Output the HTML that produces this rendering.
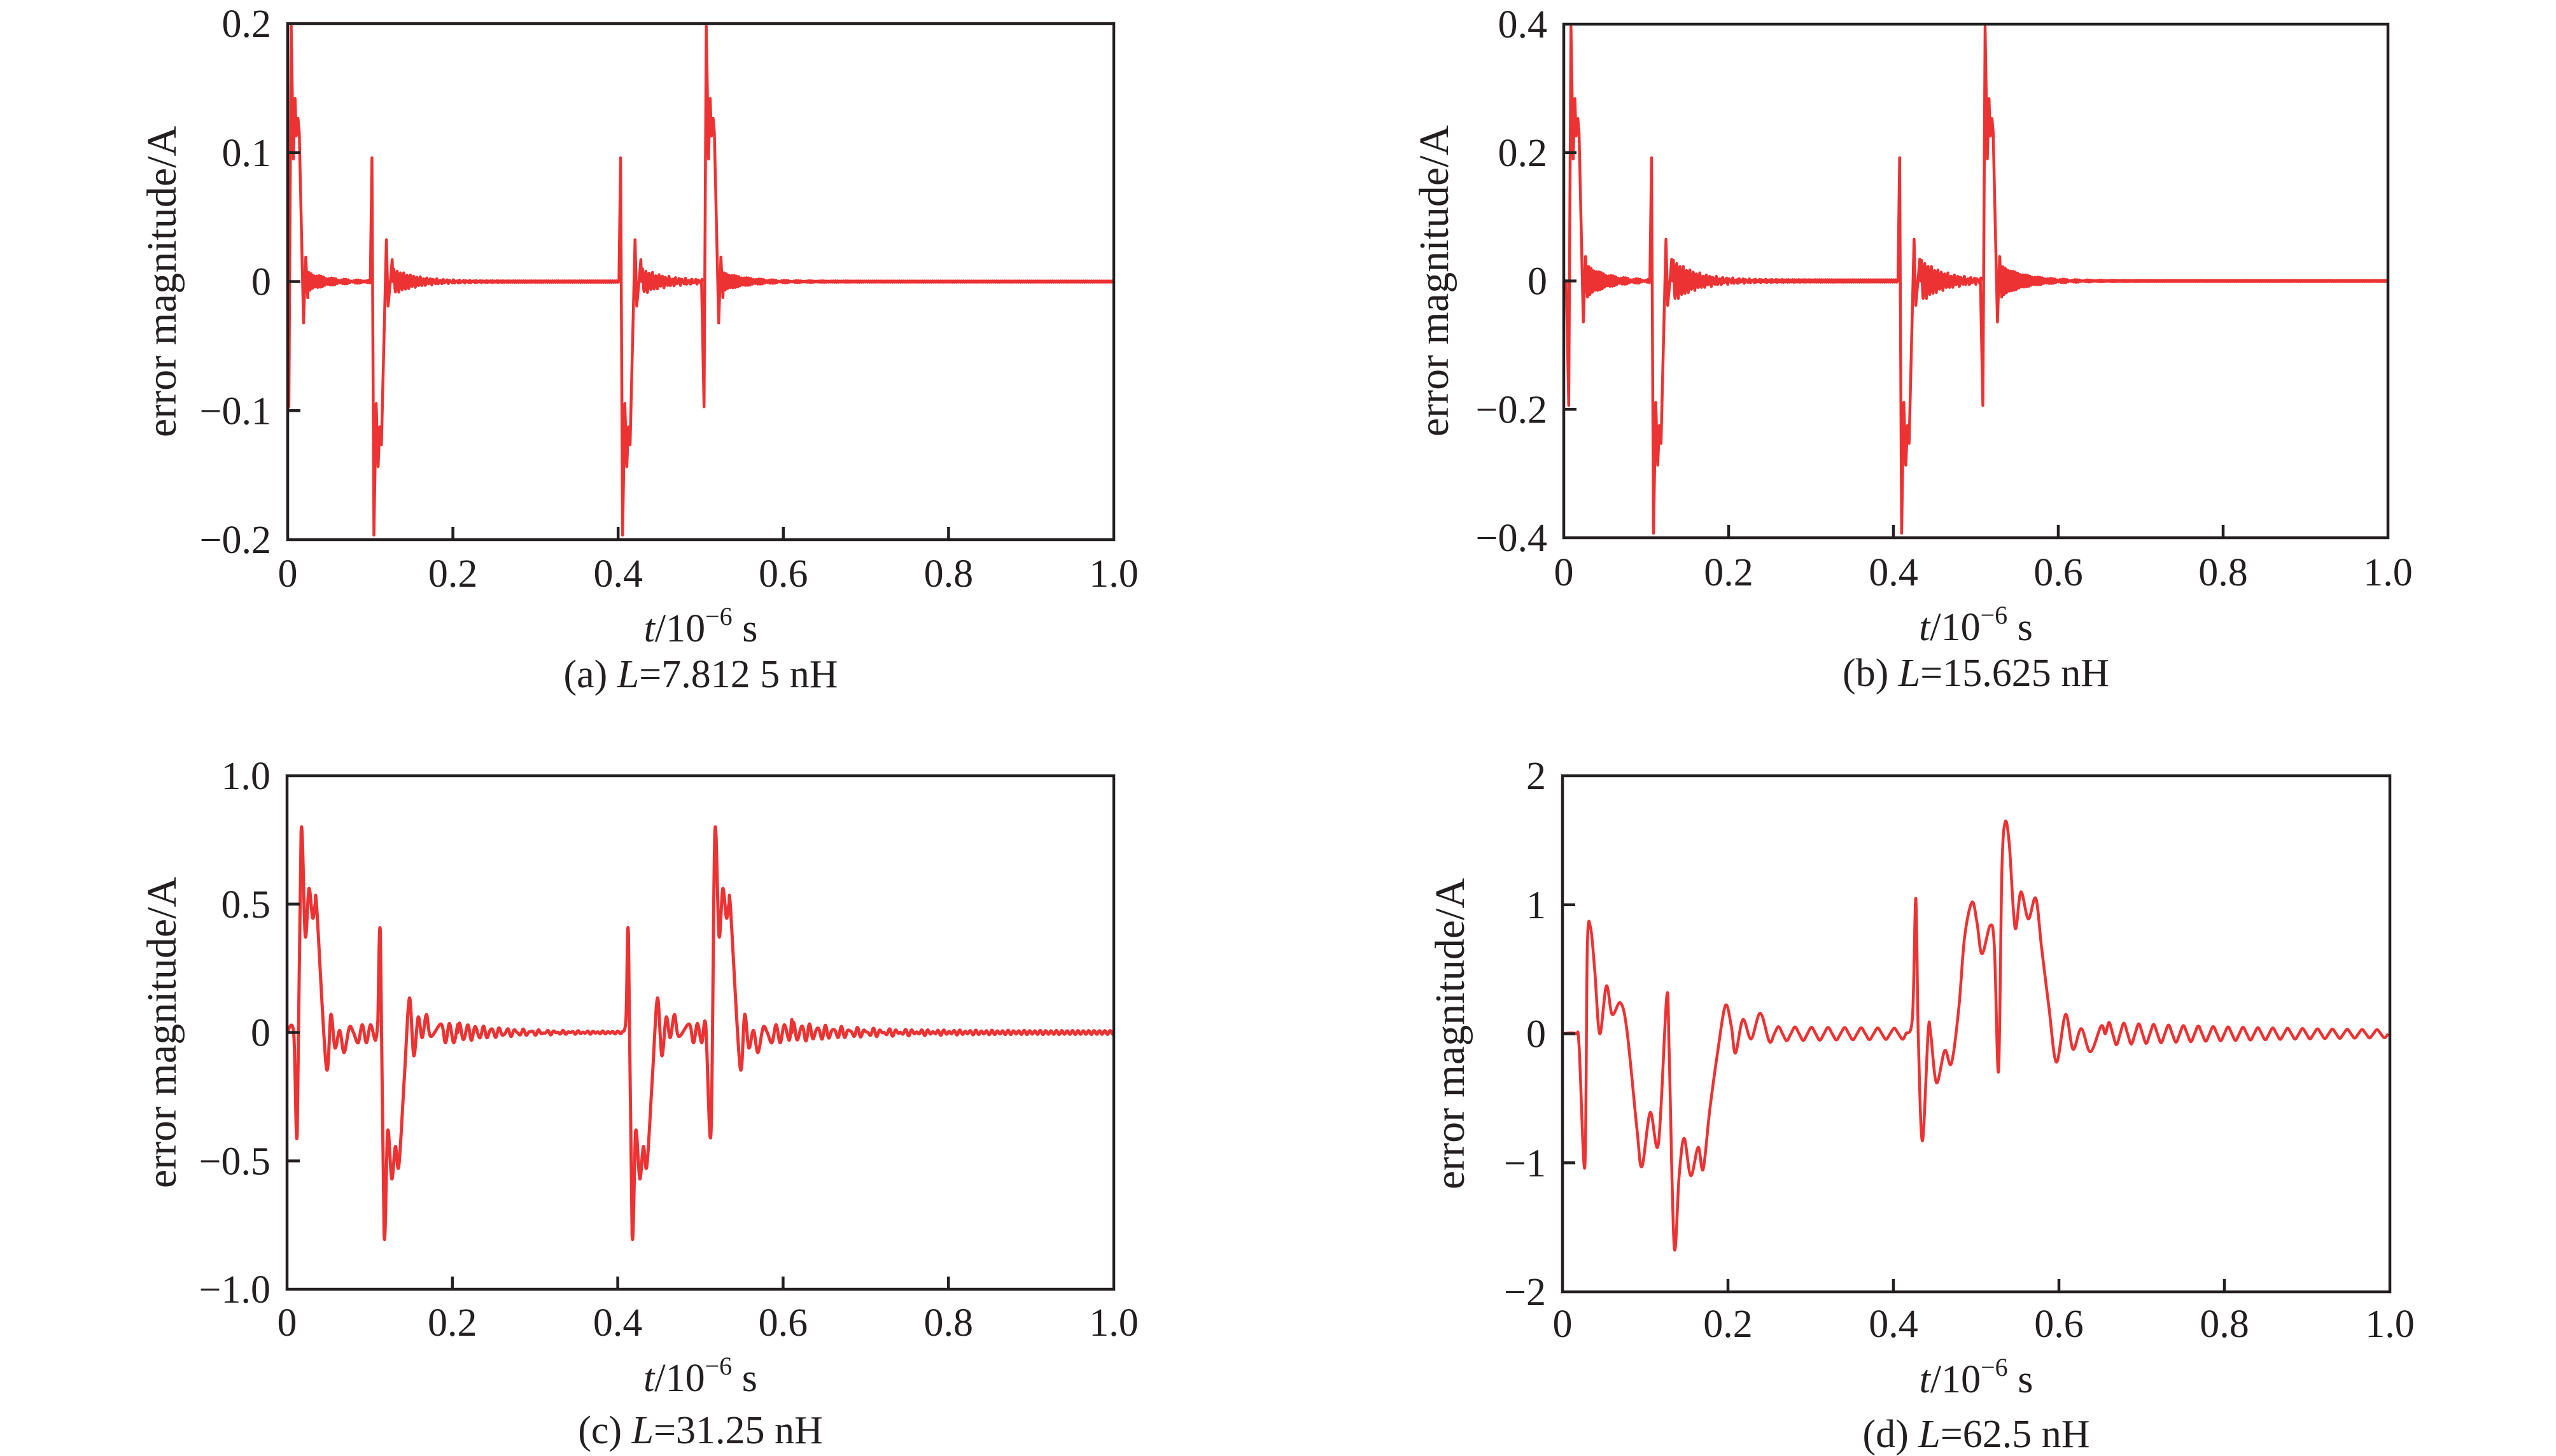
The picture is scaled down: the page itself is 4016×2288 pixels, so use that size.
<!DOCTYPE html>
<html><head><meta charset="utf-8"><style>
html,body{margin:0;padding:0;background:#fff}
svg{display:block}
text{font-family:"Liberation Serif",serif;fill:#231f20}
</style></head><body>
<svg id="s" width="4016" height="2288" viewBox="0 0 4016 2288" xmlns="http://www.w3.org/2000/svg">
<rect width="4016" height="2288" fill="#fff"/>
<g id="g"></g>
</svg>
<script>
var NS="http://www.w3.org/2000/svg",G=document.getElementById('g');
function el(n,a,t){var e=document.createElementNS(NS,n);for(var k in a)e.setAttribute(k,a[k]);if(t!==undefined)e.textContent=t;G.appendChild(e);return e;}
function ring(pts,ts,te,amp,tau,P,floor,fP,step){step=step||0.0005;for(var t=ts;t<te;t+=step){var d=t-ts;var v=amp*Math.exp(-d/tau)*Math.sin(2*Math.PI*d/P)+(floor?floor*Math.sin(2*Math.PI*d/fP):0);pts.push([t,v]);}}
function addT(pts,t0,tpl,sc){sc=sc||1;tpl.forEach(function(p){pts.push([t0+p[0],p[1]*sc]);});}
var A=[[-0.003,0],[0,-0.194],[0.0027,0.396],[0.0054,0.19],[0.0074,0.284],[0.009,0.226],[0.011,0.253],[0.0125,0.231],[0.0177,-0.064],[0.0204,0.038],[0.0228,-0.025]];
var B=[[-0.002,0],[0,0.192],[0.0024,-0.393],[0.0051,-0.189],[0.0075,-0.287],[0.0095,-0.225],[0.0115,-0.253],[0.0175,0.065],[0.0195,-0.038],[0.0225,0.003],[0.0245,0.034]];
function ab(sc,sh,ra){var p=[[0,0]];
 addT(p,0.006+sh,A,sc);ring(p,0.0295+sh,0.1045+sh,0.025*sc*ra,0.025,0.003,0.0015*sc,0.0025);
 addT(p,0.1065+sh,B,sc);ring(p,0.132+sh,0.405+sh,0.032*sc*ra,0.03,0.004,0.002*sc*ra,0.0025);
 addT(p,0.4075+sh,B,sc);ring(p,0.433+sh,0.5065+sh,0.032*sc*ra,0.03,0.004,0.002*sc,0.0025);
 addT(p,0.5085+sh,A,sc);ring(p,0.5320+sh,1.0,0.025*sc*ra,0.03,0.003,0.001*sc,0.0025);
 return p;}
var E1=[[-0.004,0],[0,-0.39],[0.0047,0.78],[0.0097,0.376],[0.0142,0.56],[0.0187,0.446],[0.0217,0.50],[0.0237,0.48],[0.0352,-0.135],[0.0407,0.07],[0.0457,-0.06],[0.0514,0.008],[0.0567,-0.078],[0.0631,0.02],[0.068,0],[0.0737,-0.04],[0.0787,0.03],[0.0837,-0.04],[0.0887,0.03],[0.0947,-0.03],[0.0977,0.05]];
var E2=[[-0.003,0.05],[0,0.38],[0.0045,-0.785],[0.0088,-0.384],[0.0137,-0.57],[0.0181,-0.444],[0.0223,-0.52],[0.0289,-0.18],[0.0351,0.134],[0.0404,-0.09],[0.0457,0.06],[0.0505,-0.02],[0.0557,0.07],[0.0608,-0.015],[0.0735,0.033],[0.0787,-0.04],[0.0835,0.035],[0.0887,-0.04],[0.0935,0.03]];
function cdata(){var p=[[0,0],[0.008,0]];
 addT(p,0.0123,E1.slice(1));
 addT(p,0.1129,E2);ring(p,0.2064,0.405,0.035,0.06,0.0096,0.004,0.006);
 addT(p,0.4129,E2);
 addT(p,0.5128,E1.slice(1));ring(p,0.6105,1.0,0.035,0.08,0.0096,0.007,0.0065);
 return p;}
function ddata(){var raw=[[0,0],[0.016,0],[0.02,-0.09],[0.027,-1.03],[0.03,0.67],[0.034,0.82],[0.039,0.49],[0.045,0],[0.053,0.37],[0.06,0.15],[0.07,0.24],[0.078,0.02],[0.09,-0.74],[0.096,-1.03],[0.106,-0.61],[0.116,-0.85],[0.126,0.29],[0.129,-0.16],[0.135,-1.65],[0.141,-1.1],[0.147,-0.81],[0.155,-1.1],[0.164,-0.88],[0.17,-1.05],[0.178,-0.59],[0.188,-0.12],[0.197,0.22],[0.204,0.06],[0.209,-0.15],[0.218,0.11],[0.228,-0.04],[0.239,0.16],[0.25,-0.06]];
 var p=raw.slice();ring(p,0.256,0.413,0.055,0.6,0.02,0,1,0.005);
 [[0.415,0],[0.423,0.13],[0.427,1.05],[0.43,-0.01],[0.435,-0.83],[0.442,0.02],[0.445,0],[0.452,-0.38],[0.462,-0.13],[0.47,-0.23],[0.479,0.2],[0.486,0.75],[0.495,1.02],[0.501,0.86],[0.507,0.62],[0.517,0.84],[0.522,0.67],[0.527,-0.29],[0.531,1.25],[0.535,1.64],[0.54,1.47],[0.547,0.82],[0.554,1.1],[0.563,0.89],[0.572,1.05],[0.579,0.67],[0.588,0.2],[0.597,-0.22],[0.608,0.15],[0.617,-0.12],[0.627,0.04],[0.638,-0.14],[0.651,0.06]].forEach(function(q){p.push(q);});
 ring(p,0.656,1.0,0.075,0.22,0.018,0.015,0.018,0.0045);return p;}
function panel(o){
 var x0=o.x0,x1=o.x1,y0=o.y0,y1=o.y1,R=o.R;
 function X(t){return x0+(x1-x0)*t;}function Y(v){return (y0+y1)/2-(v/R)*(y1-y0)/2;}
 var P=o.data.map(function(p){return [X(Math.min(1,Math.max(0,p[0]))),Y(Math.max(-R,Math.min(R,p[1])))];});
 var d;
 if(o.smooth){d='M'+P[0][0].toFixed(1)+' '+P[0][1].toFixed(1);
  for(var i=0;i<P.length-1;i++){var p0=P[Math.max(0,i-1)],p1=P[i],p2=P[i+1],p3=P[Math.min(P.length-1,i+2)];
   var c1=[p1[0]+(p2[0]-p0[0])/6,p1[1]+(p2[1]-p0[1])/6],c2=[p2[0]-(p3[0]-p1[0])/6,p2[1]-(p3[1]-p1[1])/6];
   d+='C'+c1[0].toFixed(1)+' '+c1[1].toFixed(1)+' '+c2[0].toFixed(1)+' '+c2[1].toFixed(1)+' '+p2[0].toFixed(1)+' '+p2[1].toFixed(1);}
 } else d=P.map(function(p,i){return (i?'L':'M')+p[0].toFixed(1)+' '+p[1].toFixed(1);}).join('');
 el('path',{d:d,fill:'none',stroke:'#ec3232','stroke-width':o.sw,'stroke-linejoin':'round'});
 el('rect',{x:x0,y:y0,width:x1-x0,height:y1-y0,fill:'none',stroke:'#231f20','stroke-width':4.5});
 for(var i=1;i<5;i++){var xx=X(i/5);el('line',{x1:xx,y1:y1,x2:xx,y2:y1-20,stroke:'#231f20','stroke-width':4.5});}
 for(var j=1;j<4;j++){var yy=y0+(y1-y0)*j/4;el('line',{x1:x0,y1:yy,x2:x0+20,y2:yy,stroke:'#231f20','stroke-width':4.5});}
 ['0','0.2','0.4','0.6','0.8','1.0'].forEach(function(s,i){el('text',{x:X(i/5),y:o.xb,'font-size':62,'text-anchor':'middle'},s);});
 o.yl.forEach(function(s,i){el('text',{x:x0-26,y:y0+(y1-y0)*i/4+21,'font-size':62,'text-anchor':'end'},s);});
 var yc=(y0+y1)/2;
 el('text',{x:o.ylx,y:yc,'font-size':66,'text-anchor':'middle',transform:'rotate(-90 '+o.ylx+' '+yc+')'},'error magnitude/A');
 var cx=(x0+x1)/2;
 var t=el('text',{x:cx,y:o.xlb,'font-size':62,'text-anchor':'middle'});
 t.innerHTML='<tspan font-style="italic">t</tspan>/10<tspan font-size="40" dy="-26">−6</tspan><tspan dy="26"> s</tspan>';
 var c=el('text',{x:cx,y:o.cb,'font-size':62,'text-anchor':'middle'});
 c.innerHTML='('+o.lab+') <tspan font-style="italic">L</tspan>='+o.L+' nH';
}
panel({x0:452,x1:1750,y0:37,y1:848,R:0.2,data:ab(0.5,-0.0045,0.6),sw:4.5,xb:922,xlb:1008,cb:1080,ylx:276,yl:['0.2','0.1','0','−0.1','−0.2'],lab:'a',L:'7.812 5'});
panel({x0:2457,x1:3752,y0:38,y1:845,R:0.4,data:ab(1,0,1),sw:4.5,xb:920,xlb:1006,cb:1078,ylx:2275,yl:['0.4','0.2','0','−0.2','−0.4'],lab:'b',L:'15.625'});
panel({x0:451,x1:1750,y0:1219,y1:2026,R:1,data:cdata(),sw:5,xb:2099,xlb:2186,cb:2268,ylx:276,yl:['1.0','0.5','0','−0.5','−1.0'],lab:'c',L:'31.25',smooth:true});
panel({x0:2455,x1:3755,y0:1219,y1:2030,R:2,data:ddata(),sw:4.5,xb:2101,xlb:2188,cb:2274,ylx:2300,yl:['2','1','0','−1','−2'],lab:'d',L:'62.5',smooth:true});
</script>
</body></html>
